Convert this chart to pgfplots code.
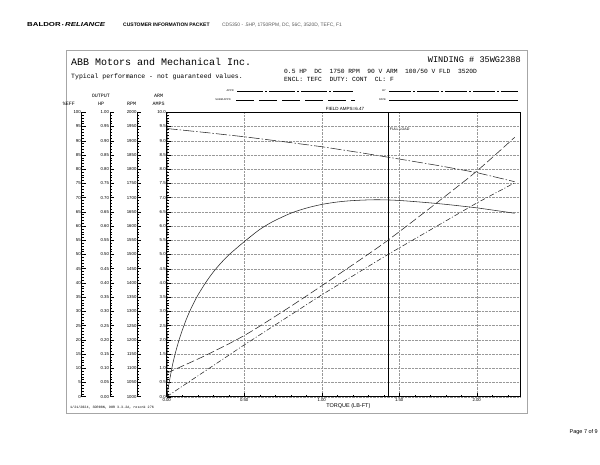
\documentclass[border=0pt]{standalone}
\usepackage{fontspec}
\setmainfont{Liberation Sans}
\newfontfamily\mono{Liberation Mono}
\usepackage{graphicx}
\usepackage{pgfplots}
\pgfplotsset{compat=1.18}

\definecolor{gridgray}{gray}{0.6}
\definecolor{framegray}{gray}{0.65}
\definecolor{curve}{gray}{0.15}
\definecolor{hdrgray}{gray}{0.35}

\newcommand{\fs}[1]{\fontsize{#1}{#1}\selectfont}

% side scales (%EFF, HP, RPM) share the height of the main axis
\pgfplotsset{
  sidescale/.style={
    scale only axis, width=1pt, height=284.4pt,
    anchor=south west,
    axis x line=none, axis y line=left,
    axis line style={-, black, line width=0.8pt},
    tick align=inside, major tick length=4pt, minor tick length=2pt,
    tick style={black, line width=0.45pt},
    yticklabel style={font=\fs{4.3}, inner sep=0.8pt},
    /pgf/number format/assume math mode=true,
    xmin=0, xmax=1,
  }
}

\begin{document}
\begin{tikzpicture}
\useasboundingbox (0,0) rectangle (600pt,464pt);

% page furniture, y measured from the top
\begin{scope}[shift={(0,464pt)}, x=1pt, y=-1pt]
  \node[anchor=west, inner sep=0] at (27,25)
    {\scalebox{1.35}[1]{\fs{5.8}\bfseries BALDOR\,{\fs{4}\textbullet}\,\itshape RELIANCE}};
  \node[anchor=west, inner sep=0] at (123,25) {\fs{5}\bfseries CUSTOMER INFORMATION PACKET};
  \node[anchor=west, inner sep=0, text=hdrgray] at (222,25)
    {\fs{4.9}CD5350 - .5HP, 1750RPM, DC, 56C, 3520D, TEFC, F1};

  \draw[framegray, line width=0.9pt] (66.7,50) rectangle (527,413.3);

  \node[anchor=west, inner sep=0] at (71,62) {\mono\fs{10}ABB Motors and Mechanical Inc.};
  \node[anchor=west, inner sep=0] at (71,77.3) {\mono\fs{6.5}Typical performance - not guaranteed values.};
  \node[anchor=east, inner sep=0] at (521,60) {\mono\fs{8.6}WINDING \# 35WG2388};
  \node[anchor=west, inner sep=0] at (284,71)
    {\mono\fs{6.3}0.5 HP~~DC~~1750 RPM~~90 V ARM~~100/50 V FLD~~3520D};
  \node[anchor=west, inner sep=0] at (284,79.5)
    {\mono\fs{6.3}ENCL: TEFC~~DUTY: CONT~~CL: F};

  % approval lines
  \node[anchor=east, inner sep=0] at (234,91) {\fs{2.6}APPR};
  \draw[line width=0.4pt, dash pattern=on 26pt off 2pt on 2pt off 2pt] (237,91) -- (353,91);
  \node[anchor=east, inner sep=0] at (231,100) {\fs{2.6}SUBM APPD};
  \draw[line width=0.4pt, dash pattern=on 18pt off 5pt] (236,100) -- (355,100);
  \node[anchor=east, inner sep=0] at (386,91) {\fs{2.6}BY};
  \draw[line width=0.4pt, dash pattern=on 22pt off 2pt on 2pt off 2pt] (389,91) -- (518,91);
  \node[anchor=east, inner sep=0] at (386,100) {\fs{2.6}DATE};
  \draw[line width=0.4pt] (389,100) -- (518,100);

  % scale headings
  \node[inner sep=0] at (69,104.3) {\mono\fs{5}\%EFF};
  \node[inner sep=0] at (101,96) {\mono\fs{5}OUTPUT};
  \node[inner sep=0] at (101,104.3) {\mono\fs{5}HP};
  \node[inner sep=0] at (131.5,104.3) {\mono\fs{5}RPM};
  \node[inner sep=0] at (158.7,96) {\mono\fs{5}ARM};
  \node[inner sep=0] at (158.7,104.3) {\mono\fs{5}AMPS};
  \node[inner sep=0] at (345,108.5) {\fs{4.5}FIELD AMPS=6.47};

  \node[anchor=west, inner sep=0] at (70,408) {\mono\fs{3.4}1/21/2024, 3DR08N, 90R 3.3.2A, rescnk 276};
  \node[anchor=east, inner sep=0] at (598,432.5) {\fs{5.5}Page 7 of 9};
\end{scope}

% %EFF scale
\begin{axis}[sidescale, at={(81.7pt,67.3pt)},
  ymin=0, ymax=100, ytick={0,5,...,100}, minor ytick={0,1,...,100}]
  \addplot[draw=none] coordinates {(0,0)};
\end{axis}
% output HP scale
\begin{axis}[sidescale, at={(110pt,67.3pt)},
  ymin=0, ymax=1, ytick={0,0.05,...,1.001}, minor ytick={0,0.01,...,1.001},
  yticklabel style={/pgf/number format/.cd, fixed, fixed zerofill, precision=2}]
  \addplot[draw=none] coordinates {(0,0)};
\end{axis}
% RPM scale
\begin{axis}[sidescale, at={(137.4pt,67.3pt)},
  ymin=1000, ymax=2000, ytick={1000,1050,...,2000}, minor ytick={1000,1010,...,2000},
  yticklabel style={/pgf/number format/.cd, fixed, 1000 sep={}}]
  \addplot[draw=none] coordinates {(0,1000)};
\end{axis}

% main performance axis, ARM AMPS scale on the left
\begin{axis}[
  at={(166.7pt,67.3pt)}, anchor=south west,
  scale only axis, width=353.4pt, height=284.4pt,
  xmin=0, xmax=2.28, ymin=0, ymax=10,
  xtick={0,0.5,1,1.5,2}, minor xtick={0,0.1,...,2.21},
  ytick={0,0.5,...,10}, minor ytick={0,0.1,...,10.01},
  xtick pos=bottom, ytick pos=left,
  tick align=inside, major tick length=4pt, minor tick length=2pt,
  tick style={black, line width=0.4pt},
  grid=major, major grid style={densely dotted, gridgray, line width=0.4pt},
  axis line style={black, line width=0.7pt},
  /pgf/number format/assume math mode=true,
  xticklabel style={font=\fs{4.3}, inner sep=1pt, yshift=-0.6pt,
    /pgf/number format/.cd, fixed, fixed zerofill, precision=2},
  yticklabel style={font=\fs{4.3}, inner sep=0.8pt,
    /pgf/number format/.cd, fixed, fixed zerofill, precision=1},
  xlabel={TORQUE (LB-FT)},
  xlabel style={font=\fs{5.5}, at={(axis description cs:0.5,0)}, anchor=center,
    yshift=-9pt, xshift=5pt},
  every axis plot/.append style={curve, line width=0.55pt},
]
% full load marker
\addplot[black, line width=0.6pt] coordinates {(1.43,0) (1.43,10)};
\node[anchor=west, inner sep=0.5pt, font=\fs{3.6}] at (axis cs:1.435,9.41) {FULL LOAD};

% speed (RPM, 1000-2000 on 0-10)
\addplot[dash pattern=on 11pt off 2pt on 1.5pt off 2pt] coordinates {
  (0,9.43) (0.25,9.29) (0.5,9.14) (0.75,8.97) (1.0,8.79) (1.25,8.58)
  (1.43,8.42) (1.75,8.13) (2.0,7.88) (2.245,7.56)};
% efficiency (%/10)
\addplot[smooth] coordinates {
  (0,0) (0.02,0.62) (0.04,1.18) (0.06,1.62) (0.08,2.0) (0.10,2.33)
  (0.125,2.7) (0.15,3.02) (0.175,3.3) (0.20,3.56) (0.25,4.0) (0.30,4.38)
  (0.35,4.7) (0.40,4.98) (0.45,5.22) (0.50,5.45) (0.55,5.67) (0.60,5.88)
  (0.65,6.05) (0.70,6.2) (0.80,6.45) (0.90,6.63) (1.00,6.76) (1.10,6.845)
  (1.20,6.895) (1.35,6.925) (1.50,6.9) (1.75,6.79) (2.00,6.64) (2.245,6.45)};
% armature amps
\addplot[smooth, dash pattern=on 8pt off 3pt] coordinates {
  (0,0.83) (0.25,1.45) (0.5,2.15) (0.75,3.0) (1.0,3.9) (1.34,5.16)
  (1.5,5.8) (1.75,6.85) (2.0,7.93) (2.245,9.12)};
% output HP (HP*10)
\addplot[dash pattern=on 5pt off 2pt on 1pt off 2pt] coordinates {
  (0,0) (0.5,1.82) (1.0,3.58) (1.43,5.01) (2.0,6.81) (2.245,7.52)};
\end{axis}
\end{tikzpicture}
\end{document}
